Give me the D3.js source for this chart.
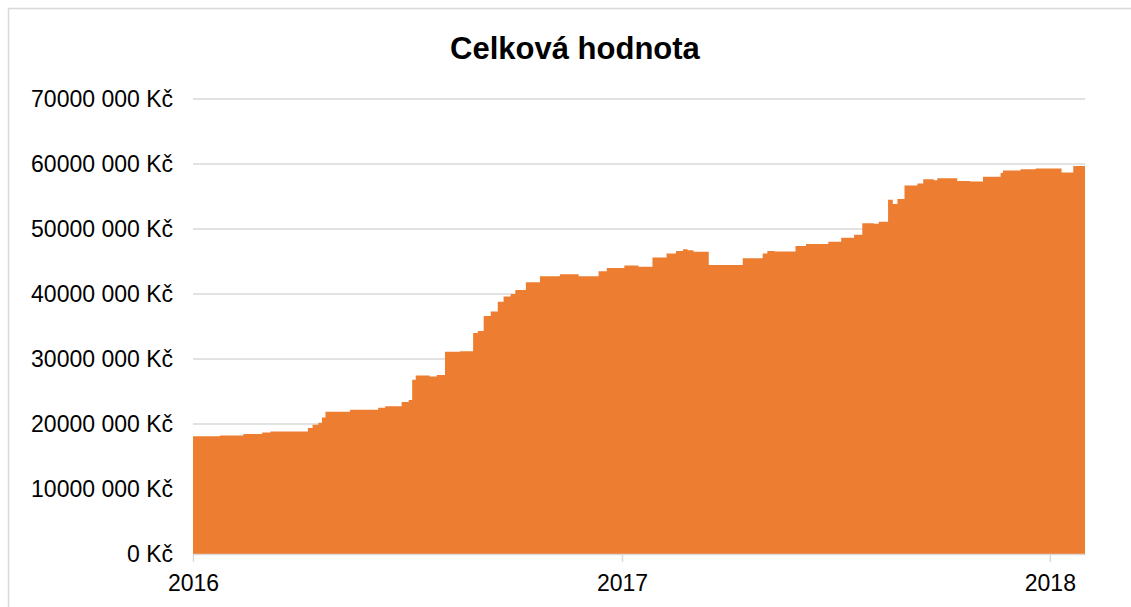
<!DOCTYPE html>
<html>
<head>
  <meta charset="UTF-8">
  <title>Celková hodnota</title>
  <script src="https://d3js.org/d3.v7.min.js"></script>
  <style>
    body { margin: 0; background: #fff; }
    text { font-family: "Liberation Sans", Arial, sans-serif; fill: #000; }
  </style>
</head>
<body>
  <svg width="1131" height="607"></svg>

  <script>
    // Dates where the total value changes, and the value (Kč) from that date on
    const dates = [
      "2016-01-01", "2016-01-24", "2016-02-13", "2016-02-29", "2016-03-07",
      "2016-04-08", "2016-04-12", "2016-04-17", "2016-04-20", "2016-04-23",
      "2016-05-14", "2016-06-07", "2016-06-13", "2016-06-27", "2016-07-03",
      "2016-07-06", "2016-07-09", "2016-07-21", "2016-07-27", "2016-08-03",
      "2016-08-16", "2016-08-27", "2016-08-31", "2016-09-05", "2016-09-11",
      "2016-09-17", "2016-09-22", "2016-09-28", "2016-10-02", "2016-10-11",
      "2016-10-23", "2016-11-09", "2016-11-25", "2016-12-12", "2016-12-19",
      "2017-01-03", "2017-01-15", "2017-01-27", "2017-02-08", "2017-02-16",
      "2017-02-22", "2017-02-26", "2017-03-03", "2017-03-16", "2017-04-14",
      "2017-05-01", "2017-05-05", "2017-05-11", "2017-05-29", "2017-06-07",
      "2017-06-26", "2017-07-07", "2017-07-18", "2017-07-25", "2017-08-04",
      "2017-08-08", "2017-08-16", "2017-08-20", "2017-08-24", "2017-08-30",
      "2017-09-10", "2017-09-15", "2017-09-24", "2017-09-27", "2017-10-14",
      "2017-10-25", "2017-11-05", "2017-11-20", "2017-11-22", "2017-12-07",
      "2017-12-20", "2018-01-11", "2018-01-21", "2018-01-31"
    ];
    const values = [
      18.1, 18.25, 18.45, 18.7, 18.85,
      19.4, 19.9, 20.2, 21.0, 21.9,
      22.2, 22.5, 22.75, 23.4, 23.7,
      26.8, 27.45, 27.3, 27.55, 31.1,
      31.2, 34.0, 34.3, 36.6, 37.3,
      38.8, 39.6, 40.0, 40.6, 41.8,
      42.75, 43.05, 42.75, 43.5, 44.0,
      44.4, 44.2, 45.6, 46.25, 46.6,
      46.9, 46.75, 46.5, 44.45, 45.5,
      46.25, 46.6, 46.55, 47.4, 47.7,
      48.05, 48.65, 49.1, 50.9, 50.8,
      51.1, 54.5, 53.85, 54.6, 56.7,
      57.0, 57.65, 57.5, 57.8, 57.4,
      57.3, 58.05, 58.6, 59.0, 59.2,
      59.3, 58.7, 59.7, 59.65
    ].map(v => v * 1e6);

    const yTicks = [0, 10e6, 20e6, 30e6, 40e6, 50e6, 60e6, 70e6];
    const xTickYears = ["2016-01-01", "2017-01-01", "2018-01-01"];

    const parse = d3.timeParse("%Y-%m-%d");
    const data = dates.map((d, i) => ({ date: parse(d), value: values[i] }));

    const margin = { top: 99, right: 46, bottom: 53, left: 193 };
    const width = 1131 - margin.left - margin.right;
    const height = 607 - margin.top - margin.bottom;

    const root = d3.select("svg");

    // chart border (Excel chart area)
    root.append("rect")
      .attr("x", 8.5).attr("y", 8.5)
      .attr("width", 1140).attr("height", 620)
      .attr("fill", "none")
      .attr("stroke", "#d9d9d9")
      .attr("stroke-width", 1.5);

    // Title
    root.append("text")
      .attr("x", 575)
      .attr("y", 59)
      .attr("text-anchor", "middle")
      .style("font-size", "31px")
      .style("font-weight", "bold")
      .text("Celková hodnota");

    const svg = root.append("g")
      .attr("transform", `translate(${margin.left}, ${margin.top})`);

    const xScale = d3.scaleTime()
      .domain([parse("2016-01-01"), parse("2018-01-31")])
      .range([0, width]);
    const yScale = d3.scaleLinear()
      .domain([0, 70e6])
      .range([height, 0]);

    // gridlines
    svg.append("g")
      .selectAll("line")
      .data(yTicks.filter(t => t > 0))
      .join("line")
      .attr("x1", 0).attr("x2", width)
      .attr("y1", d => yScale(d)).attr("y2", d => yScale(d))
      .attr("stroke", "#d9d9d9")
      .attr("stroke-width", 1.5);

    // area
    const area = d3.area()
      .curve(d3.curveStepAfter)
      .x(d => xScale(d.date))
      .y0(yScale(0))
      .y1(d => yScale(d.value));

    svg.append("path")
      .datum(data)
      .attr("fill", "#ED7D31")
      .attr("d", area);

    // y axis labels
    const fmt = v => v === 0 ? "0 Kč" : `${Math.round(v / 1000)} 000 Kč`.replace(/^(\d+)000 000/, "$1000 000");
    const yAxis = d3.axisLeft(yScale)
      .tickValues(yTicks)
      .tickSize(0)
      .tickPadding(20)
      .tickFormat(v => v === 0 ? "0 Kč" : `${v / 1000000}000 000 Kč`);
    svg.append("g")
      .call(yAxis)
      .call(g => g.select(".domain").remove())
      .selectAll("text")
      .style("font-size", "23px")
      .attr("fill", "#000");

    // x axis
    const xAxis = d3.axisBottom(xScale)
      .tickValues(xTickYears.map(parse))
      .tickSizeInner(8)
      .tickSizeOuter(0)
      .tickPadding(13)
      .tickFormat(d3.timeFormat("%Y"));
    const gx = svg.append("g")
      .attr("transform", `translate(0, ${height})`)
      .call(xAxis);
    gx.select(".domain").attr("stroke", "#d9d9d9").attr("stroke-width", 1.5);
    gx.selectAll(".tick line").attr("stroke", "#d9d9d9").attr("stroke-width", 1.5);
    gx.selectAll("text").style("font-size", "23px").attr("fill", "#000");
  </script>
</body>
</html>
